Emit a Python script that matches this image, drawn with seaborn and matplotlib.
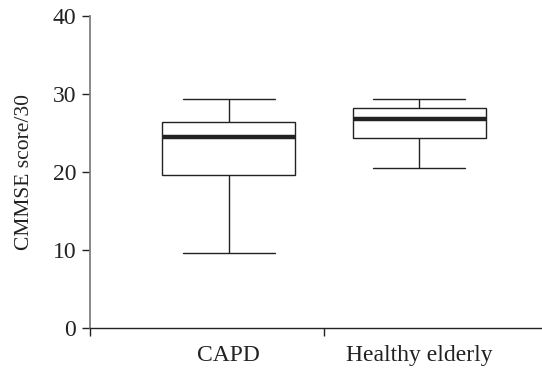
import numpy as np
import pandas as pd
import matplotlib
matplotlib.use("Agg")
import matplotlib.pyplot as plt
import seaborn as sns

categories = ["CAPD", "Healthy elderly"]
capd_scores = [9.65, 19.6, 24.5, 26.4, 29.4]
healthy_scores = [20.5, 24.3, 26.8, 28.25, 29.3]
y_ticks = [0, 10, 20, 30, 40]
y_label = "CMMSE score/30"

df = pd.DataFrame({
    "group": [categories[0]] * len(capd_scores) + [categories[1]] * len(healthy_scores),
    "score": capd_scores + healthy_scores,
})

sns.set_style("white")
plt.rcParams["font.family"] = ["Liberation Serif", "DejaVu Serif"]

fig = plt.figure(figsize=(5.42, 3.69), dpi=100)
ax = fig.add_axes([90 / 542, 1 - 328 / 369, 1 - 90 / 542, (328 - 16) / 369])

ink = "#222222"
sns.boxplot(data=df, x="group", y="score", order=categories, ax=ax,
            width=0.7, whis=(0, 100), color="white", linecolor=ink,
            linewidth=1.0, fill=True,
            medianprops=dict(linewidth=3.2, color=ink))

# widen caps to match reference
for ln in ax.lines:
    xd = np.asarray(ln.get_xdata(), dtype=float)
    yd = np.asarray(ln.get_ydata(), dtype=float)
    if len(xd) == 2 and np.isclose(yd[0], yd[1]):
        w = abs(xd[1] - xd[0])
        if np.isclose(w, 0.35, atol=0.02):
            c = xd.mean()
            ln.set_xdata([c - 0.2425, c + 0.2425])

ax.set_ylim(0, 40)
ax.set_xlim(-0.728, 1.644)
ax.set_yticks(y_ticks)
ax.set_yticklabels([str(t) for t in y_ticks], fontsize=17)
ax.set_xticks([-0.728, 0.5])
ax.set_xticklabels(["", ""])
ax.set_xticks([0, 1], minor=True)
ax.set_xticklabels(categories, minor=True, fontsize=17)
ax.tick_params(axis="x", which="major", direction="out", length=6, width=1, color=ink, bottom=True)
ax.tick_params(axis="x", which="minor", length=0, pad=12, labelcolor=ink)
ax.tick_params(axis="y", direction="out", length=6, width=1, color=ink, left=True, pad=4, labelcolor=ink)
ax.set_xlabel("")
ax.set_ylabel(y_label, fontsize=15.5, color=ink, labelpad=13)

for s in ["top", "right"]:
    ax.spines[s].set_visible(False)
ax.spines["left"].set_color("#808080")
ax.spines["left"].set_linewidth(1.3)
ax.spines["bottom"].set_color(ink)
ax.spines["bottom"].set_linewidth(1.0)
ax.grid(False)

fig.savefig("out.png", dpi=100)
